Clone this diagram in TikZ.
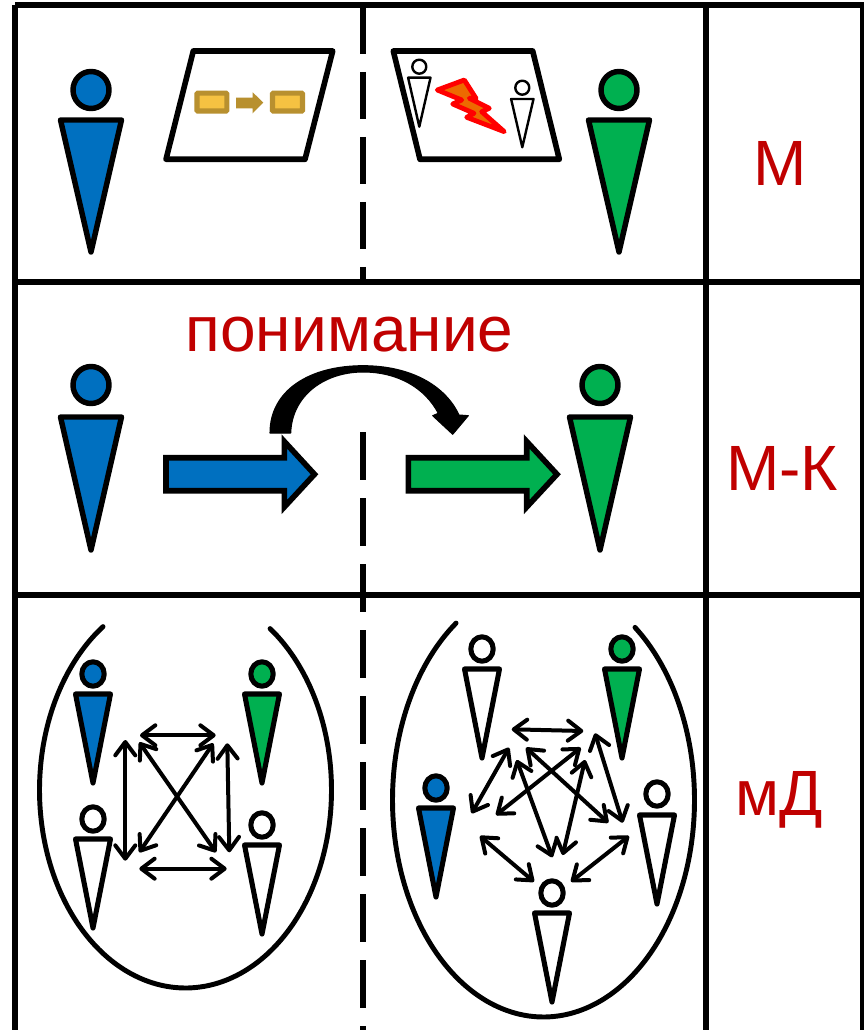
\documentclass[tikz,border=0pt]{standalone}
\usepackage{fontspec}
\setmainfont{Liberation Sans}
\usetikzlibrary{arrows.meta}
\definecolor{pblue}{HTML}{0070C0}
\definecolor{pgreen}{HTML}{00B050}
\definecolor{lbl}{HTML}{C00000}
\definecolor{gold}{HTML}{B8902F}
\definecolor{goldfill}{HTML}{F5C242}
\definecolor{bolt}{HTML}{ED6A00}
\tikzset{
  grid/.style={line width=4.2pt,black,line cap=butt},
  bigfig/.style={line width=4.1pt,line join=round},
  smallfig/.style={line width=3.8pt,line join=round},
  tinyfig/.style={line width=1.8pt,line join=round,fill=white},
  sheet/.style={line width=4.2pt,line join=round,fill=white},
  oval/.style={line width=3.7pt,line cap=round},
  link/.style={line width=3pt,line cap=round,{Straight Barb[length=10pt,width=15pt,round]}-{Straight Barb[length=10pt,width=15pt,round]}},
  goldbox/.style={draw=gold,fill=goldfill,line width=3.8pt,rounded corners=0.6pt},
  bigarrow/.style={line width=4.2pt,miter limit=10},
  lab/.style={text=lbl,font=\fontsize{48pt}{48pt}\selectfont,inner sep=0pt,anchor=base},
}
% style, fill, cx, head y, head rx, head ry, tri top, half width, apex y
\newcommand{\figperson}[9]{%
  \draw[#1,fill=#2] (#3,#4) ellipse [x radius=#5,y radius=#6];
  \draw[#1,fill=#2] (#3-#8,#7) -- (#3+#8,#7) -- (#3,#9) -- cycle;
}
\begin{document}
\begin{tikzpicture}[x=0.75pt,y=-0.75pt]
\useasboundingbox (0,0) rectangle (864,1030);
\fill[white] (0,0) rectangle (864,1030);
% grid
\coordinate (gTL) at (15,5);
\coordinate (gTR) at (864,5);
\coordinate (gBL) at (15,1030);
\coordinate (gMT) at (706,5);
\coordinate (gMB) at (706,1030);
\coordinate (gEB) at (862,1030);
\coordinate (gET) at (862,5);
\coordinate (gR1a) at (15,282);
\coordinate (gR1b) at (864,282);
\coordinate (gR2a) at (15,595);
\coordinate (gR2b) at (864,595);
\draw[grid] (gTL) -- (gTR);
\draw[grid] (gTL) -- (gBL);
\draw[grid] (gMT) -- (gMB);
\draw[grid,line width=3.4pt] (gET) -- (gEB);
\draw[grid] (gR1a) -- (gR1b);
\draw[grid] (gR2a) -- (gR2b);
\coordinate (d1a) at (363,7);
\coordinate (d1b) at (363,282);
\coordinate (d2a) at (363,432);
\coordinate (d2b) at (363,1030);
\draw[line width=4.4pt,dash pattern=on 35.25pt off 13.5pt] (d1a) -- (d1b);
\draw[line width=4.4pt,dash pattern=on 36pt off 13.5pt] (d2a) -- (d2b);
% row 1
\figperson{bigfig}{pblue}{91}{90}{18}{18.5}{120}{30.5}{252}
\figperson{bigfig}{pgreen}{619}{90}{18}{18.5}{120}{30.5}{252}
\draw[sheet] (193.3,51) -- (332.7,51) -- (305,159.3) -- (166,159.3) -- cycle;
\draw[sheet] (393.3,51) -- (532.7,51) -- (559.3,159.3) -- (420,159.3) -- cycle;
\draw[goldbox] (197,93.2) rectangle (226.8,111);
\draw[goldbox] (272.5,93.2) rectangle (302.5,111);
\fill[gold] (236,97.7) -- (252.7,97.7) -- (252.7,92.3) -- (263.3,102.6) -- (252.7,113.3) -- (252.7,108.3) -- (236,108.3) -- cycle;
\figperson{tinyfig}{white}{419.3}{66.7}{7}{7}{77.7}{11.2}{126.7}
\figperson{tinyfig}{white}{522.3}{87.7}{7}{7}{99}{11.2}{147.3}
\draw[draw=red,fill=bolt,line width=3.6pt,line join=round]
  (437.3,90) -- (464.3,80) -- (476,98.3) -- (469.3,98.3) -- (489.3,108.3) -- (481.7,111.7) -- (504.3,131.7) -- (466.7,117.3) -- (474,113.3) -- (452.7,104) -- (461.7,100) -- cycle;
\node[lab] (labM) at (780,186) {М};
% row 2
\figperson{bigfig}{pblue}{91}{385}{18}{18.5}{417}{30.5}{550}
\figperson{bigfig}{pgreen}{600}{385}{18}{18.5}{417}{30.5}{550}
\draw[bigarrow,fill=pblue] (166,457.7) -- (284.3,457.7) -- (284.3,441.5) -- (314.5,474.3) -- (284.3,507) -- (284.3,490.7) -- (166,490.7) -- cycle;
\draw[bigarrow,fill=pgreen] (408.3,457.7) -- (526.7,457.7) -- (526.7,441.5) -- (557,474.3) -- (526.7,507) -- (526.7,490.7) -- (408.3,490.7) -- cycle;
\fill[black,draw=black,line width=0.8pt,line join=round] (270,433) .. controls (270,390) and (310,365.7) .. (363,365.7)
  .. controls (410,365.7) and (445,385) .. (459,415) -- (468.3,415.7) -- (452.7,434.3) -- (432.7,415.7) -- (438.3,413.3)
  .. controls (425,388) and (398,372) .. (363,372) .. controls (325,372) and (292,395) .. (290.7,433) -- cycle;
\node[lab] (labU) at (349.5,351) {понимание};
\node[lab] (labMK) at (782,490) {М-К};
% row 3 left
\draw[oval] plot[domain=-54.6:235.6,samples=90,smooth] ({185.5+146*cos(\x)},{790+198*sin(\x)});
\figperson{smallfig}{pblue}{93}{674}{11.2}{12.2}{694}{17.5}{783}
\figperson{smallfig}{pgreen}{262}{674}{11.2}{12.2}{694}{17.5}{783}
\figperson{smallfig}{white}{93}{819}{11.2}{12.2}{839}{17.5}{928}
\figperson{smallfig}{white}{262}{825}{11.2}{12.2}{845}{17.5}{934}
\coordinate (la1) at (140,735.3);   \coordinate (la2) at (215.7,735.3);
\coordinate (lb1) at (125.3,740);   \coordinate (lb2) at (125.3,860.7);
\coordinate (lc1) at (227.3,743.3); \coordinate (lc2) at (229.3,852.3);
\coordinate (ld1) at (139.3,742.3); \coordinate (ld2) at (216,852.3);
\coordinate (le1) at (213.3,743.3); \coordinate (le2) at (139.3,852.3);
\coordinate (lf1) at (139.3,868.7); \coordinate (lf2) at (226.7,868.7);
\foreach \n in {la,lb,lc,ld,le,lf} \draw[link] (\n1) -- (\n2);
% row 3 right
\draw[oval] plot[domain=-52.7:234.6,samples=90,smooth] ({543.5+151*cos(\x)},{800+217*sin(\x)});
\figperson{smallfig}{white}{482}{649}{11.2}{12.2}{669}{17.5}{758}
\figperson{smallfig}{pgreen}{622}{649}{11.2}{12.2}{669}{17.5}{758}
\figperson{smallfig}{pblue}{436}{788}{11.2}{12.2}{808}{17.5}{897}
\figperson{smallfig}{white}{657}{794}{11.2}{12.2}{815}{17.5}{904}
\figperson{smallfig}{white}{552}{893}{11.2}{12.2}{913}{17.5}{1002}
\coordinate (ra1) at (511.7,729.3); \coordinate (ra2) at (583.3,731);
\coordinate (rb1) at (509,747.7);   \coordinate (rb2) at (471.7,813.3);
\coordinate (rc1) at (580.7,747.7); \coordinate (rc2) at (496,815);
\coordinate (rd1) at (526,747.7);   \coordinate (rd2) at (608.3,822.7);
\coordinate (re1) at (595,733.3);   \coordinate (re2) at (622.7,822.7);
\coordinate (rf1) at (516.7,760);   \coordinate (rf2) at (552.3,857.3);
\coordinate (rg1) at (585,760);     \coordinate (rg2) at (562.7,855);
\coordinate (rh1) at (480,836);     \coordinate (rh2) at (534,881.7);
\coordinate (ri1) at (629,836);     \coordinate (ri2) at (571,881.7);
\foreach \n in {ra,rb,rc,rd,re,rf,rg,rh,ri} \draw[link] (\n1) -- (\n2);
\node[lab] (labMD) at (779,815) {мД};
\end{tikzpicture}
\end{document}
